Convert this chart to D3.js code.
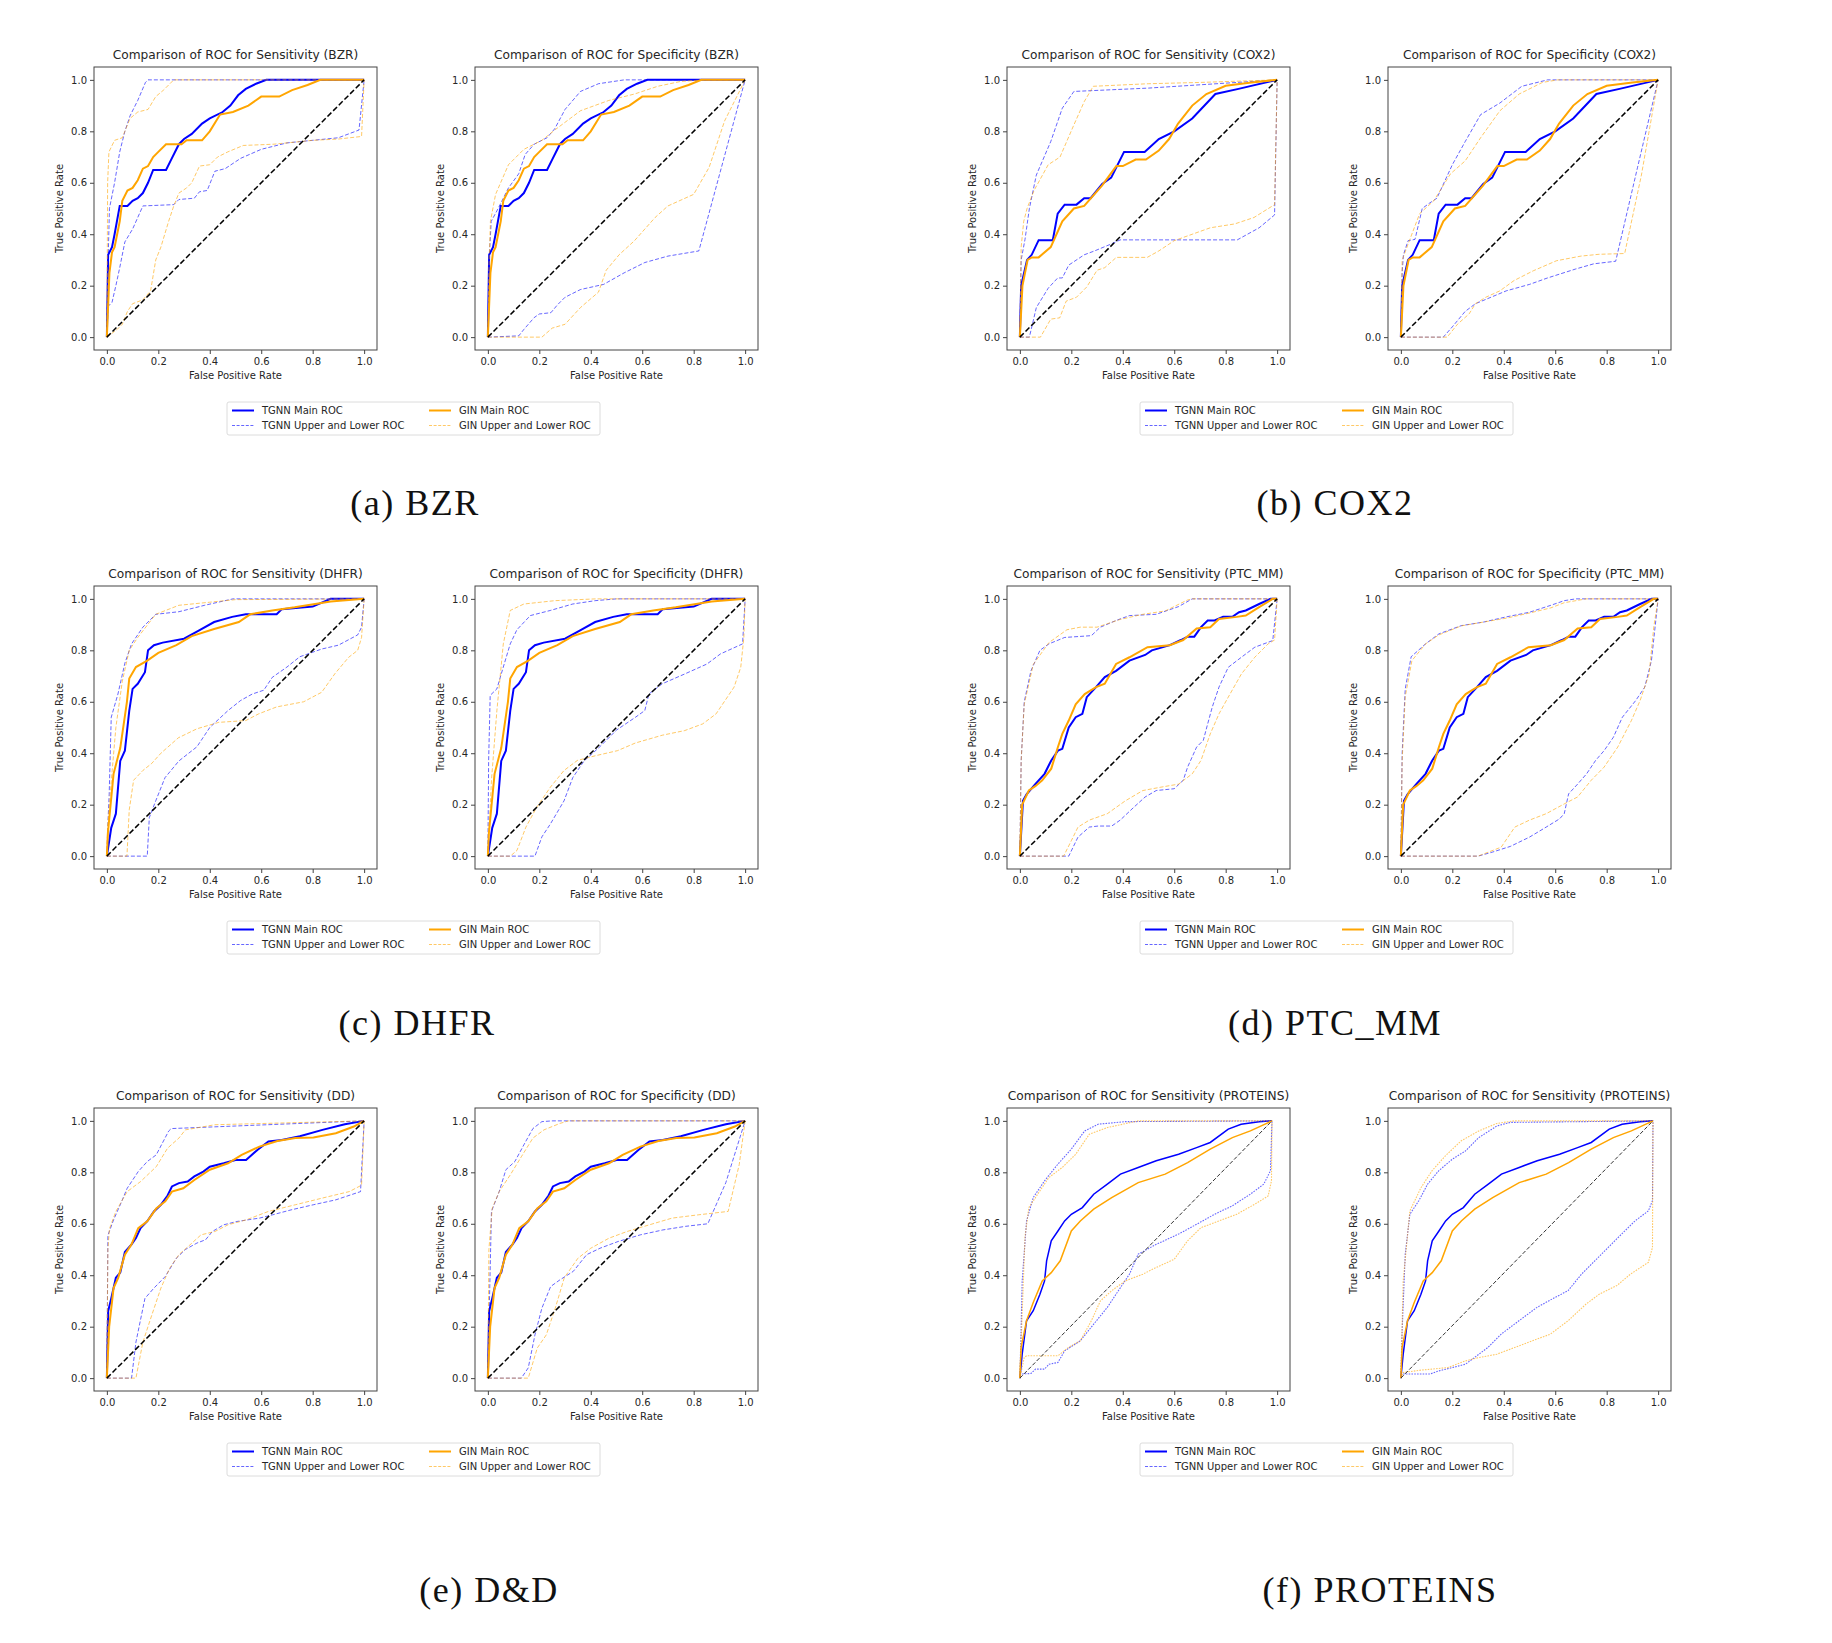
<!DOCTYPE html>
<html>
<head>
<meta charset="utf-8">
<script src="https://cdn.jsdelivr.net/npm/d3@7"></script>
<style>
  body { margin: 0; background: #fff; }
  svg { display: block; }
</style>
</head>
<body>
<div id="fig"></div>
<script>
'use strict';

// ---- Shared labels and ticks ----
const rateTicks = [0, 0.2, 0.4, 0.6, 0.8, 1.0];
const legendLabels = ['TGNN Main ROC', 'TGNN Upper and Lower ROC', 'GIN Main ROC', 'GIN Upper and Lower ROC'];
const datasets = ['BZR', 'COX2', 'DHFR', 'PTC_MM', 'DD', 'PROTEINS'];
const captions = ['(a) BZR', '(b) COX2', '(c) DHFR', '(d) PTC_MM', '(e) D&D', '(f) PROTEINS'];
const chanceLine = [[0, 0], [1, 1]];
const proteinsChanceLine = [[0, 0], [0.98, 1]];

// ---- BZR ----
const bzrTgnnMain = [[0,0],[0.005,0.32],[0.02,0.35],[0.03,0.4],[0.05,0.51],[0.08,0.51],[0.1,0.53],[0.12,0.54],[0.14,0.56],[0.16,0.6],[0.18,0.65],[0.23,0.65],[0.25,0.69],[0.28,0.75],[0.3,0.77],[0.33,0.79],[0.37,0.83],[0.4,0.85],[0.45,0.875],[0.48,0.9],[0.51,0.94],[0.54,0.965],[0.58,0.985],[0.62,1],[1,1]];
const bzrGinMain = [[0,0],[0.01,0.25],[0.02,0.33],[0.03,0.35],[0.05,0.45],[0.06,0.53],[0.08,0.57],[0.1,0.58],[0.12,0.61],[0.14,0.655],[0.16,0.665],[0.18,0.7],[0.2,0.72],[0.23,0.75],[0.29,0.75],[0.31,0.765],[0.37,0.765],[0.4,0.8],[0.44,0.865],[0.49,0.875],[0.55,0.9],[0.6,0.935],[0.67,0.935],[0.72,0.96],[0.78,0.98],[0.83,1],[1,1]];
const bzrSensTgnnUpper = [[0,0],[0.005,0.3],[0.01,0.5],[0.03,0.6],[0.05,0.72],[0.07,0.8],[0.09,0.86],[0.12,0.92],[0.15,0.99],[0.16,1],[1,1]];
const bzrSensTgnnLower = [[0,0],[0.005,0.12],[0.02,0.135],[0.035,0.2],[0.05,0.27],[0.07,0.37],[0.1,0.42],[0.14,0.51],[0.26,0.515],[0.28,0.535],[0.34,0.54],[0.36,0.565],[0.39,0.57],[0.42,0.645],[0.46,0.655],[0.52,0.695],[0.6,0.73],[0.7,0.755],[0.8,0.765],[0.9,0.775],[0.98,0.805],[1,1]];
const bzrSensGinUpper = [[0,0],[0.003,0.6],[0.008,0.72],[0.03,0.765],[0.06,0.775],[0.09,0.85],[0.12,0.875],[0.16,0.885],[0.19,0.935],[0.22,0.96],[0.26,1],[1,1]];
const bzrSensGinLower = [[0,0],[0.04,0.03],[0.06,0.05],[0.08,0.1],[0.1,0.13],[0.14,0.145],[0.17,0.18],[0.19,0.3],[0.21,0.35],[0.24,0.45],[0.26,0.51],[0.28,0.56],[0.31,0.58],[0.33,0.6],[0.36,0.665],[0.4,0.67],[0.43,0.7],[0.47,0.72],[0.53,0.745],[0.65,0.75],[0.8,0.765],[0.9,0.77],[0.99,0.78],[1,1]];
const bzrSpecTgnnUpper = [[0,0],[0.005,0.3],[0.013,0.45],[0.04,0.5],[0.08,0.58],[0.12,0.635],[0.145,0.71],[0.18,0.75],[0.23,0.775],[0.26,0.81],[0.3,0.885],[0.36,0.955],[0.43,0.985],[0.53,1],[1,1]];
const bzrSpecTgnnLower = [[0,0],[0.12,0.005],[0.14,0.03],[0.18,0.076],[0.2,0.09],[0.245,0.095],[0.27,0.125],[0.3,0.155],[0.36,0.185],[0.45,0.205],[0.53,0.25],[0.61,0.29],[0.7,0.315],[0.82,0.335],[1,1]];
const bzrSpecGinUpper = [[0,0],[0.005,0.3],[0.01,0.45],[0.03,0.555],[0.08,0.67],[0.14,0.73],[0.21,0.765],[0.26,0.805],[0.36,0.88],[0.47,0.92],[0.57,0.945],[0.66,0.975],[0.75,0.994],[0.84,1],[1,1]];
const bzrSpecGinLower = [[0,0],[0.21,0],[0.25,0.035],[0.3,0.05],[0.36,0.115],[0.43,0.175],[0.46,0.26],[0.51,0.32],[0.57,0.375],[0.65,0.465],[0.7,0.51],[0.8,0.555],[0.86,0.66],[0.92,0.84],[1,1]];

// ---- COX2 ----
const cox2TgnnMain = [[0,0],[0.005,0.2],[0.028,0.3],[0.046,0.32],[0.073,0.377],[0.128,0.377],[0.147,0.48],[0.174,0.515],[0.22,0.515],[0.25,0.54],[0.275,0.54],[0.32,0.595],[0.355,0.62],[0.405,0.72],[0.485,0.72],[0.54,0.77],[0.6,0.8],[0.67,0.85],[0.76,0.945],[0.85,0.965],[1,1]];
const cox2GinMain = [[0,0],[0.01,0.2],[0.03,0.3],[0.046,0.31],[0.073,0.31],[0.12,0.35],[0.165,0.45],[0.21,0.5],[0.25,0.51],[0.32,0.59],[0.375,0.665],[0.4,0.665],[0.45,0.69],[0.49,0.69],[0.54,0.725],[0.58,0.77],[0.615,0.83],[0.67,0.9],[0.725,0.945],[0.8,0.977],[0.9,0.99],[1,1]];
const cox2SensTgnnUpper = [[0,0],[0.005,0.3],[0.02,0.38],[0.037,0.5],[0.064,0.63],[0.12,0.76],[0.165,0.89],[0.21,0.955],[0.5,0.968],[1,1]];
const cox2SensTgnnLower = [[0,0],[0.037,0],[0.064,0.115],[0.11,0.19],[0.147,0.23],[0.165,0.23],[0.19,0.28],[0.25,0.32],[0.29,0.335],[0.35,0.36],[0.39,0.378],[0.845,0.378],[0.93,0.425],[0.99,0.475],[1,1]];
const cox2SensGinUpper = [[0,0],[0.005,0.35],[0.015,0.45],[0.028,0.5],[0.055,0.57],[0.11,0.67],[0.156,0.7],[0.21,0.825],[0.25,0.915],[0.285,0.975],[0.5,0.985],[0.7,0.99],[1,1]];
const cox2SensGinLower = [[0,0],[0.08,0],[0.12,0.07],[0.155,0.075],[0.18,0.14],[0.22,0.155],[0.26,0.195],[0.3,0.26],[0.33,0.27],[0.375,0.31],[0.495,0.31],[0.54,0.335],[0.6,0.375],[0.67,0.4],[0.74,0.425],[0.835,0.44],[0.91,0.465],[0.99,0.515],[1,1]];
const cox2SpecTgnnUpper = [[0,0],[0.005,0.25],[0.01,0.32],[0.028,0.375],[0.055,0.38],[0.083,0.5],[0.11,0.52],[0.14,0.54],[0.2,0.67],[0.25,0.76],[0.31,0.865],[0.385,0.91],[0.47,0.975],[0.57,1],[1,1]];
const cox2SpecTgnnLower = [[0,0],[0.165,0],[0.2,0.04],[0.25,0.1],[0.29,0.13],[0.35,0.155],[0.41,0.18],[0.5,0.205],[0.57,0.23],[0.68,0.265],[0.75,0.285],[0.835,0.295],[0.92,0.66],[1,1]];
const cox2SpecGinUpper = [[0,0],[0.005,0.3],[0.037,0.385],[0.073,0.48],[0.128,0.53],[0.193,0.635],[0.25,0.685],[0.31,0.775],[0.385,0.88],[0.46,0.945],[0.55,0.99],[0.61,1],[1,1]];
const cox2SpecGinLower = [[0,0],[0.18,0],[0.22,0.05],[0.265,0.09],[0.29,0.13],[0.33,0.155],[0.385,0.18],[0.44,0.22],[0.515,0.258],[0.605,0.297],[0.7,0.315],[0.77,0.322],[0.87,0.325],[0.935,0.63],[1,1]];

// ---- DHFR ----
const dhfrTgnnMain = [[0,0],[0.017,0.11],[0.035,0.165],[0.052,0.37],[0.07,0.41],[0.087,0.565],[0.1,0.65],[0.12,0.67],[0.148,0.715],[0.16,0.8],[0.183,0.82],[0.217,0.83],[0.3,0.845],[0.357,0.877],[0.417,0.91],[0.487,0.93],[0.54,0.94],[0.66,0.94],[0.68,0.96],[0.8,0.97],[0.87,1],[1,1]];
const dhfrGinMain = [[0,0],[0.004,0.09],[0.026,0.32],[0.052,0.42],[0.078,0.6],[0.087,0.69],[0.113,0.735],[0.157,0.76],[0.2,0.79],[0.27,0.82],[0.33,0.855],[0.417,0.883],[0.513,0.91],[0.557,0.94],[0.643,0.955],[0.73,0.967],[0.87,0.99],[1,1]];
const dhfrSensTgnnUpper = [[0,0],[0.005,0.15],[0.009,0.24],[0.017,0.54],[0.043,0.63],[0.07,0.75],[0.096,0.825],[0.14,0.89],[0.19,0.94],[0.28,0.95],[0.38,0.975],[0.49,1],[1,1]];
const dhfrSensTgnnLower = [[0,0],[0.157,0],[0.165,0.15],[0.19,0.215],[0.226,0.305],[0.28,0.37],[0.35,0.425],[0.4,0.5],[0.47,0.565],[0.52,0.605],[0.565,0.63],[0.61,0.645],[0.643,0.695],[0.7,0.735],[0.75,0.775],[0.835,0.805],[0.9,0.82],[0.975,0.86],[0.99,0.89],[1,1]];
const dhfrSensGinUpper = [[0,0],[0.003,0.11],[0.017,0.29],[0.035,0.5],[0.06,0.68],[0.087,0.8],[0.12,0.85],[0.19,0.94],[0.28,0.975],[0.4,0.987],[0.5,0.997],[1,1]];
const dhfrSensGinLower = [[0,0],[0.078,0],[0.087,0.18],[0.104,0.295],[0.14,0.333],[0.174,0.36],[0.21,0.4],[0.278,0.46],[0.35,0.495],[0.435,0.52],[0.54,0.527],[0.59,0.553],[0.66,0.58],[0.765,0.6],[0.835,0.637],[0.887,0.71],[0.94,0.773],[0.975,0.8],[0.99,0.85],[1,1]];
const dhfrSpecTgnnUpper = [[0,0],[0.003,0.37],[0.009,0.625],[0.035,0.65],[0.06,0.735],[0.087,0.825],[0.113,0.88],[0.165,0.935],[0.243,0.955],[0.33,0.98],[0.417,0.993],[0.5,1],[1,1]];
const dhfrSpecTgnnLower = [[0,0],[0.183,0],[0.21,0.075],[0.243,0.125],[0.296,0.215],[0.33,0.305],[0.374,0.37],[0.435,0.425],[0.5,0.49],[0.574,0.54],[0.61,0.566],[0.626,0.63],[0.678,0.67],[0.765,0.708],[0.852,0.747],[0.904,0.786],[0.99,0.825],[1,1]];
const dhfrSpecGinUpper = [[0,0],[0.005,0.11],[0.014,0.295],[0.035,0.565],[0.06,0.825],[0.087,0.955],[0.14,0.98],[0.26,0.993],[0.42,1],[1,1]];
const dhfrSpecGinLower = [[0,0],[0.087,0],[0.113,0.022],[0.148,0.113],[0.19,0.19],[0.243,0.268],[0.296,0.333],[0.348,0.372],[0.417,0.39],[0.504,0.41],[0.574,0.44],[0.678,0.47],[0.765,0.488],[0.835,0.514],[0.887,0.553],[0.922,0.605],[0.957,0.657],[0.983,0.734],[0.995,0.85],[1,1]];

// ---- PTC_MM ----
const ptcTgnnMain = [[0,0],[0.012,0.215],[0.026,0.24],[0.06,0.28],[0.096,0.32],[0.122,0.372],[0.148,0.41],[0.165,0.417],[0.19,0.5],[0.217,0.54],[0.243,0.553],[0.26,0.618],[0.296,0.657],[0.33,0.696],[0.374,0.72],[0.426,0.76],[0.487,0.782],[0.513,0.8],[0.583,0.82],[0.626,0.84],[0.652,0.853],[0.678,0.853],[0.704,0.89],[0.73,0.916],[0.757,0.916],[0.79,0.93],[0.826,0.93],[0.852,0.948],[0.878,0.955],[0.93,0.98],[0.975,1],[1,1]];
const ptcGinMain = [[0,0],[0.009,0.2],[0.035,0.255],[0.06,0.272],[0.087,0.295],[0.122,0.34],[0.148,0.424],[0.165,0.475],[0.19,0.527],[0.217,0.59],[0.252,0.63],[0.296,0.657],[0.33,0.67],[0.374,0.747],[0.426,0.773],[0.496,0.812],[0.583,0.82],[0.635,0.84],[0.687,0.885],[0.74,0.89],[0.774,0.922],[0.843,0.93],[0.878,0.935],[0.93,0.968],[0.983,1],[1,1]];
const ptcSensTgnnUpper = [[0,0],[0.005,0.37],[0.017,0.6],[0.043,0.72],[0.078,0.8],[0.113,0.825],[0.174,0.85],[0.278,0.857],[0.313,0.89],[0.374,0.916],[0.426,0.935],[0.53,0.94],[0.617,0.97],[0.67,1],[1,1]];
const ptcSensTgnnLower = [[0,0],[0.19,0],[0.226,0.074],[0.27,0.113],[0.304,0.117],[0.357,0.117],[0.39,0.14],[0.443,0.19],[0.487,0.23],[0.53,0.255],[0.6,0.262],[0.635,0.295],[0.652,0.346],[0.687,0.424],[0.713,0.45],[0.73,0.514],[0.748,0.58],[0.774,0.657],[0.81,0.734],[0.861,0.773],[0.913,0.812],[0.983,0.838],[1,1]];
const ptcSensGinUpper = [[0,0],[0.005,0.37],[0.017,0.59],[0.052,0.745],[0.113,0.83],[0.183,0.88],[0.235,0.89],[0.3,0.89],[0.39,0.92],[0.478,0.94],[0.565,0.953],[0.65,0.995],[0.67,1],[1,1]];
const ptcSensGinLower = [[0,0],[0.17,0],[0.2,0.06],[0.226,0.113],[0.27,0.14],[0.34,0.165],[0.41,0.215],[0.478,0.255],[0.548,0.268],[0.617,0.28],[0.67,0.32],[0.704,0.372],[0.74,0.475],[0.774,0.553],[0.81,0.618],[0.861,0.708],[0.913,0.773],[0.965,0.825],[0.99,0.84],[1,1]];
const ptcSpecTgnnUpper = [[0,0],[0.005,0.4],[0.017,0.65],[0.04,0.775],[0.096,0.825],[0.148,0.864],[0.235,0.896],[0.322,0.91],[0.41,0.93],[0.5,0.948],[0.583,0.975],[0.635,0.993],[0.68,1],[1,1]];
const ptcSpecTgnnLower = [[0,0],[0.3,0],[0.357,0.016],[0.426,0.038],[0.5,0.074],[0.565,0.113],[0.617,0.145],[0.635,0.165],[0.652,0.242],[0.687,0.28],[0.722,0.32],[0.757,0.372],[0.79,0.41],[0.826,0.462],[0.861,0.54],[0.913,0.605],[0.948,0.657],[0.974,0.76],[1,1]];
const ptcSpecGinUpper = [[0,0],[0.005,0.37],[0.017,0.62],[0.043,0.76],[0.096,0.825],[0.148,0.86],[0.235,0.895],[0.322,0.91],[0.41,0.925],[0.5,0.945],[0.583,0.965],[0.635,0.985],[0.72,1],[1,1]];
const ptcSpecGinLower = [[0,0],[0.3,0],[0.39,0.035],[0.443,0.113],[0.5,0.14],[0.565,0.165],[0.635,0.203],[0.687,0.23],[0.74,0.295],[0.79,0.346],[0.843,0.424],[0.896,0.527],[0.93,0.605],[0.965,0.708],[0.983,0.89],[1,1]];

// ---- DD ----
const ddTgnnMain = [[0,0],[0.005,0.26],[0.017,0.31],[0.035,0.39],[0.052,0.41],[0.07,0.49],[0.096,0.52],[0.113,0.545],[0.131,0.583],[0.157,0.61],[0.183,0.648],[0.21,0.674],[0.236,0.71],[0.253,0.745],[0.28,0.758],[0.314,0.764],[0.34,0.784],[0.375,0.803],[0.4,0.822],[0.454,0.835],[0.5,0.848],[0.541,0.848],[0.585,0.887],[0.628,0.92],[0.68,0.926],[0.75,0.94],[0.838,0.965],[0.925,0.987],[1,1]];
const ddGinMain = [[0,0],[0.009,0.2],[0.026,0.35],[0.044,0.39],[0.07,0.48],[0.096,0.52],[0.122,0.583],[0.157,0.61],[0.192,0.66],[0.227,0.687],[0.253,0.725],[0.297,0.738],[0.34,0.77],[0.4,0.81],[0.471,0.835],[0.524,0.868],[0.593,0.9],[0.663,0.922],[0.733,0.933],[0.803,0.935],[0.89,0.952],[0.96,0.978],[1,1]];
const ddSensTgnnUpper = [[0,0],[0.004,0.555],[0.026,0.615],[0.052,0.674],[0.079,0.738],[0.122,0.803],[0.157,0.842],[0.192,0.868],[0.24,0.96],[0.25,0.97],[0.5,0.98],[1,1]];
const ddSensTgnnLower = [[0,0],[0.096,0],[0.113,0.14],[0.148,0.31],[0.183,0.35],[0.227,0.395],[0.27,0.466],[0.305,0.5],[0.35,0.525],[0.384,0.538],[0.41,0.57],[0.454,0.596],[0.506,0.609],[0.593,0.622],[0.645,0.635],[0.716,0.654],[0.803,0.674],[0.89,0.693],[0.986,0.725],[1,1]];
const ddSensGinUpper = [[0,0],[0.004,0.5],[0.01,0.58],[0.035,0.648],[0.079,0.725],[0.131,0.764],[0.192,0.822],[0.236,0.894],[0.28,0.933],[0.305,0.965],[0.42,0.985],[1,1]];
const ddSensGinLower = [[0,0],[0.113,0],[0.14,0.14],[0.175,0.246],[0.21,0.35],[0.244,0.427],[0.28,0.48],[0.323,0.518],[0.366,0.557],[0.42,0.57],[0.471,0.596],[0.541,0.615],[0.628,0.648],[0.733,0.674],[0.838,0.7],[0.942,0.725],[0.99,0.75],[1,1]];
const ddSpecTgnnUpper = [[0,0],[0.005,0.245],[0.014,0.648],[0.044,0.725],[0.07,0.81],[0.105,0.842],[0.14,0.907],[0.175,0.97],[0.21,0.997],[0.25,1],[1,1]];
const ddSpecTgnnLower = [[0,0],[0.13,0],[0.157,0.04],[0.183,0.168],[0.21,0.272],[0.244,0.356],[0.28,0.382],[0.332,0.415],[0.384,0.48],[0.436,0.505],[0.506,0.531],[0.593,0.557],[0.68,0.576],[0.768,0.59],[0.855,0.6],[0.925,0.76],[1,1]];
const ddSpecGinUpper = [[0,0],[0.004,0.5],[0.017,0.66],[0.044,0.725],[0.087,0.79],[0.131,0.862],[0.175,0.933],[0.218,0.965],[0.28,0.99],[0.314,1],[1,1]];
const ddSpecGinLower = [[0,0],[0.157,0],[0.192,0.117],[0.227,0.168],[0.262,0.272],[0.297,0.39],[0.35,0.466],[0.4,0.505],[0.471,0.544],[0.541,0.57],[0.628,0.596],[0.716,0.622],[0.82,0.635],[0.934,0.648],[0.977,0.83],[1,1]];

// ---- PROTEINS ----
const proteinsTgnnMain = [[0,0],[0.009,0.093],[0.026,0.223],[0.052,0.262],[0.078,0.326],[0.096,0.378],[0.104,0.456],[0.122,0.534],[0.148,0.572],[0.174,0.611],[0.2,0.637],[0.243,0.663],[0.287,0.715],[0.34,0.754],[0.391,0.793],[0.46,0.819],[0.53,0.845],[0.617,0.87],[0.687,0.896],[0.74,0.916],[0.81,0.968],[0.86,0.987],[0.93,0.997],[0.98,1]];
const proteinsGinMain = [[0,0],[0.005,0.12],[0.026,0.223],[0.052,0.294],[0.087,0.378],[0.122,0.41],[0.157,0.456],[0.2,0.572],[0.235,0.611],[0.287,0.657],[0.357,0.702],[0.46,0.76],[0.565,0.793],[0.652,0.838],[0.74,0.89],[0.826,0.935],[0.896,0.961],[0.98,1]];
const proteinsATgnnUpper = [[0,0],[0.005,0.2],[0.009,0.378],[0.026,0.611],[0.052,0.702],[0.096,0.767],[0.148,0.832],[0.2,0.89],[0.252,0.961],[0.304,0.987],[0.41,0.997],[0.98,1]];
const proteinsATgnnLower = [[0,0],[0.003,0.016],[0.043,0.018],[0.061,0.035],[0.096,0.035],[0.113,0.054],[0.148,0.061],[0.174,0.106],[0.235,0.145],[0.287,0.21],[0.34,0.275],[0.391,0.352],[0.426,0.404],[0.46,0.482],[0.53,0.52],[0.617,0.56],[0.687,0.598],[0.757,0.637],[0.826,0.67],[0.896,0.715],[0.948,0.754],[0.974,0.806],[0.98,1]];
const proteinsAGinUpper = [[0,0],[0.009,0.25],[0.02,0.55],[0.035,0.663],[0.078,0.728],[0.113,0.78],[0.165,0.819],[0.217,0.87],[0.27,0.948],[0.34,0.974],[0.46,1],[0.98,1]];
const proteinsAGinLower = [[0,0],[0.017,0.08],[0.026,0.087],[0.148,0.087],[0.19,0.12],[0.235,0.145],[0.278,0.223],[0.313,0.3],[0.357,0.34],[0.41,0.378],[0.478,0.404],[0.53,0.43],[0.6,0.462],[0.652,0.534],[0.704,0.585],[0.774,0.611],[0.843,0.637],[0.913,0.676],[0.965,0.708],[0.978,0.767],[0.98,1]];
const proteinsBTgnnUpper = [[0,0],[0.005,0.184],[0.017,0.482],[0.035,0.637],[0.07,0.69],[0.104,0.754],[0.147,0.806],[0.2,0.851],[0.251,0.883],[0.303,0.935],[0.373,0.98],[0.425,0.994],[0.98,1]];
const proteinsBTgnnLower = [[0,0],[0.003,0.016],[0.113,0.016],[0.147,0.028],[0.2,0.041],[0.251,0.054],[0.286,0.08],[0.338,0.119],[0.39,0.171],[0.459,0.223],[0.529,0.275],[0.598,0.313],[0.65,0.34],[0.702,0.404],[0.754,0.456],[0.806,0.508],[0.858,0.56],[0.91,0.611],[0.962,0.65],[0.978,0.69],[0.98,1]];
const proteinsBGinUpper = [[0,0],[0.009,0.378],[0.035,0.65],[0.078,0.74],[0.121,0.806],[0.173,0.864],[0.234,0.922],[0.303,0.961],[0.373,0.99],[0.44,1],[0.98,1]];
const proteinsBGinLower = [[0,0],[0.009,0.022],[0.078,0.031],[0.182,0.041],[0.251,0.067],[0.303,0.08],[0.373,0.093],[0.442,0.119],[0.511,0.145],[0.581,0.171],[0.65,0.223],[0.72,0.288],[0.771,0.326],[0.84,0.36],[0.892,0.404],[0.962,0.45],[0.978,0.508],[0.98,1]];

// ---- Panel table built from the arrays above ----
// each entry: dataset, kind, TGNN main, GIN main, TGNN bounds, GIN bounds, chance line
const subplots = [
    ['BZR', 'Sensitivity', bzrTgnnMain, bzrGinMain, [bzrSensTgnnUpper, bzrSensTgnnLower], [bzrSensGinUpper, bzrSensGinLower], chanceLine],
    ['BZR', 'Specificity', bzrTgnnMain, bzrGinMain, [bzrSpecTgnnUpper, bzrSpecTgnnLower], [bzrSpecGinUpper, bzrSpecGinLower], chanceLine],
    ['COX2', 'Sensitivity', cox2TgnnMain, cox2GinMain, [cox2SensTgnnUpper, cox2SensTgnnLower], [cox2SensGinUpper, cox2SensGinLower], chanceLine],
    ['COX2', 'Specificity', cox2TgnnMain, cox2GinMain, [cox2SpecTgnnUpper, cox2SpecTgnnLower], [cox2SpecGinUpper, cox2SpecGinLower], chanceLine],
    ['DHFR', 'Sensitivity', dhfrTgnnMain, dhfrGinMain, [dhfrSensTgnnUpper, dhfrSensTgnnLower], [dhfrSensGinUpper, dhfrSensGinLower], chanceLine],
    ['DHFR', 'Specificity', dhfrTgnnMain, dhfrGinMain, [dhfrSpecTgnnUpper, dhfrSpecTgnnLower], [dhfrSpecGinUpper, dhfrSpecGinLower], chanceLine],
    ['PTC_MM', 'Sensitivity', ptcTgnnMain, ptcGinMain, [ptcSensTgnnUpper, ptcSensTgnnLower], [ptcSensGinUpper, ptcSensGinLower], chanceLine],
    ['PTC_MM', 'Specificity', ptcTgnnMain, ptcGinMain, [ptcSpecTgnnUpper, ptcSpecTgnnLower], [ptcSpecGinUpper, ptcSpecGinLower], chanceLine],
    ['DD', 'Sensitivity', ddTgnnMain, ddGinMain, [ddSensTgnnUpper, ddSensTgnnLower], [ddSensGinUpper, ddSensGinLower], chanceLine],
    ['DD', 'Specificity', ddTgnnMain, ddGinMain, [ddSpecTgnnUpper, ddSpecTgnnLower], [ddSpecGinUpper, ddSpecGinLower], chanceLine],
    ['PROTEINS', 'Sensitivity', proteinsTgnnMain, proteinsGinMain, [proteinsATgnnUpper, proteinsATgnnLower], [proteinsAGinUpper, proteinsAGinLower], proteinsChanceLine],
    ['PROTEINS', 'Sensitivity', proteinsTgnnMain, proteinsGinMain, [proteinsBTgnnUpper, proteinsBTgnnLower], [proteinsBGinUpper, proteinsBGinLower], proteinsChanceLine]
];

// ---- Layout ----
const width = 1832, height = 1643;
const box = 283;                       // axes box size
const pairLeft = [94, 1007];           // left edge of each figure's first axes
const axesGap = 381;                   // offset to the second axes
const rowTop = [67, 586, 1108];
const captionPos = [[415, 515], [1335, 515], [417, 1035], [1335, 1035], [489, 1602], [1380, 1602]];
const font = '"DejaVu Sans", Verdana, sans-serif';

const svg = d3.select('#fig').append('svg')
    .attr('width', width).attr('height', height)
    .style('background', '#fff');

const x = d3.scaleLinear().domain([-0.05, 1.05]).range([0, box]);
const y = d3.scaleLinear().domain([-0.05, 1.05]).range([box, 0]);
const line = d3.line().x(d => x(d[0])).y(d => y(d[1]));

function drawSubplot(g, spec) {
    const [name, kind, tgnnMain, ginMain, tgnnBounds, ginBounds, chance] = spec;
    const thin = name === 'PROTEINS';

    g.append('text')
        .attr('x', box / 2).attr('y', -8)
        .attr('text-anchor', 'middle')
        .attr('font-family', font).attr('font-size', 12.2).attr('fill', '#262626')
        .text(`Comparison of ROC for ${kind} (${name})`);

    // axes
    const xAxis = g.append('g').attr('transform', `translate(0,${box})`)
        .call(d3.axisBottom(x).tickValues(rateTicks).tickFormat(d3.format('.1f')).tickSize(4).tickPadding(4));
    const yAxis = g.append('g')
        .call(d3.axisLeft(y).tickValues(rateTicks).tickFormat(d3.format('.1f')).tickSize(4).tickPadding(3));
    [xAxis, yAxis].forEach(a => {
        a.select('.domain').remove();
        a.selectAll('line').attr('stroke', '#444');
        a.selectAll('text').attr('font-family', font).attr('font-size', 10).attr('fill', '#262626');
    });

    g.append('text')
        .attr('x', box / 2).attr('y', box + 29)
        .attr('text-anchor', 'middle')
        .attr('font-family', font).attr('font-size', 10).attr('fill', '#262626')
        .text('False Positive Rate');
    g.append('text')
        .attr('transform', `translate(-31.5,${box / 2}) rotate(-90)`)
        .attr('text-anchor', 'middle')
        .attr('font-family', font).attr('font-size', 10).attr('fill', '#262626')
        .text('True Positive Rate');

    const plot = g.append('g');
    const mainW = thin ? 1.5 : 2;
    const boundW = thin ? 1.1 : 1;
    const boundDash = thin ? '1.6,1.2' : '4,2';

    plot.append('path').datum(tgnnMain).attr('d', line)
        .attr('fill', 'none').attr('stroke', 'blue').attr('stroke-width', mainW);
    plot.selectAll('path.tgnn-bound').data(tgnnBounds).join('path')
        .classed('tgnn-bound', true).attr('d', line)
        .attr('fill', 'none').attr('stroke', 'blue').attr('stroke-opacity', 0.6)
        .attr('stroke-width', boundW).attr('stroke-dasharray', boundDash);
    plot.append('path').datum(ginMain).attr('d', line)
        .attr('fill', 'none').attr('stroke', 'orange').attr('stroke-width', mainW);
    plot.selectAll('path.gin-bound').data(ginBounds).join('path')
        .classed('gin-bound', true).attr('d', line)
        .attr('fill', 'none').attr('stroke', 'orange').attr('stroke-opacity', 0.6)
        .attr('stroke-width', boundW).attr('stroke-dasharray', boundDash);
    plot.append('path').datum(chance).attr('d', line)
        .attr('fill', 'none').attr('stroke', thin ? '#333' : '#000')
        .attr('stroke-width', thin ? 1 : 1.5).attr('stroke-dasharray', thin ? '4,2' : '5.5,2.5');

    g.append('rect')
        .attr('width', box).attr('height', box)
        .attr('fill', 'none').attr('stroke', '#444').attr('stroke-width', 1);
}

function drawLegend(g) {
    g.append('rect')
        .attr('width', 373).attr('height', 33).attr('rx', 2)
        .attr('fill', '#fff').attr('stroke', '#dcdcdc').attr('stroke-width', 1);
    const items = [
        {label: legendLabels[0], color: 'blue', dash: null, w: 2, op: 1, col: 0, row: 0},
        {label: legendLabels[1], color: 'blue', dash: '3,1.6', w: 1, op: 0.6, col: 0, row: 1},
        {label: legendLabels[2], color: 'orange', dash: null, w: 2, op: 1, col: 1, row: 0},
        {label: legendLabels[3], color: 'orange', dash: '3,1.6', w: 1, op: 0.6, col: 1, row: 1}
    ];
    const item = g.selectAll('g.item').data(items).join('g')
        .classed('item', true)
        .attr('transform', d => `translate(${d.col ? 202 : 5},${d.row ? 23.5 : 8.5})`);
    item.append('line')
        .attr('x1', 0).attr('x2', 22)
        .attr('stroke', d => d.color).attr('stroke-opacity', d => d.op)
        .attr('stroke-width', d => d.w).attr('stroke-dasharray', d => d.dash);
    item.append('text')
        .attr('x', 30).attr('dy', '0.35em')
        .attr('font-family', font).attr('font-size', 10).attr('fill', '#262626')
        .text(d => d.label);
}

datasets.forEach((ds, i) => {
    const col = i % 2, row = Math.floor(i / 2);
    const left = pairLeft[col], top = rowTop[row];
    for (let k = 0; k < 2; k++) {
        const g = svg.append('g').attr('transform', `translate(${left + k * axesGap},${top})`);
        drawSubplot(g, subplots[i * 2 + k]);
    }
    drawLegend(svg.append('g').attr('transform', `translate(${left + 133},${top + box + 52})`));

    svg.append('text')
        .attr('x', captionPos[i][0]).attr('y', captionPos[i][1])
        .attr('text-anchor', 'middle')
        .attr('font-family', '"Liberation Serif", "DejaVu Serif", serif')
        .attr('font-size', 36).attr('letter-spacing', 1.5).attr('fill', '#111')
        .text(captions[i]);
});
</script>
</body>
</html>
